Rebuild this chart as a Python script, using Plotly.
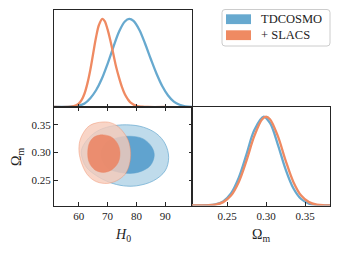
import plotly.graph_objects as go

# ---------------- data ----------------
# 1D marginal of H0 (normalised to peak = 1)
h0_blue = [51, 54, 56, 58, 60, 62, 64, 66, 68, 70, 72, 74, 76, 77.5, 79, 81, 83, 85, 87, 89, 91, 93, 95, 97, 99.5]
dens_h0_blue = [0.0, 0.001, 0.002, 0.006, 0.015, 0.04, 0.10, 0.19, 0.32, 0.49, 0.68, 0.857, 0.97, 1.0,
                0.976, 0.876, 0.72, 0.544, 0.377, 0.235, 0.13, 0.06, 0.025, 0.008, 0.002]
h0_orange = [51, 56, 58, 60, 61, 62, 63, 64, 65, 66, 67, 68.2, 69, 70, 71, 72, 73, 74, 75, 76, 77, 78, 80, 82, 84, 90]
dens_h0_orange = [0.0, 0.0, 0.006, 0.038, 0.08, 0.153, 0.268, 0.42, 0.607, 0.79, 0.93, 1.0, 0.975, 0.88,
                  0.748, 0.60, 0.45, 0.33, 0.225, 0.144, 0.089, 0.05, 0.013, 0.003, 0.0, 0.0]

# 1D marginal of Omega_m
om_blue = [0.205, 0.215, 0.225, 0.235, 0.245, 0.255, 0.265, 0.275, 0.285, 0.297, 0.305, 0.315, 0.325,
           0.335, 0.345, 0.355, 0.365, 0.375, 0.385]
dens_om_blue = [0.0001, 0.0005, 0.0028, 0.0128, 0.046, 0.135, 0.313, 0.578, 0.85, 1.0, 0.93, 0.69, 0.41,
                0.195, 0.073, 0.022, 0.0053, 0.001, 0.0]
om_orange = [0.205, 0.215, 0.225, 0.235, 0.245, 0.255, 0.265, 0.275, 0.285, 0.295, 0.300, 0.305, 0.315,
             0.325, 0.335, 0.345, 0.355, 0.365, 0.375, 0.385]
dens_om_orange = [0.0001, 0.0004, 0.0023, 0.0104, 0.038, 0.112, 0.266, 0.509, 0.784, 0.973, 1.0, 0.973,
                  0.784, 0.509, 0.266, 0.112, 0.038, 0.0104, 0.0023, 0.0004]

# 2D credible-region boundaries (H0, Omega_m)
blue95_h0 = [60.9, 62.7, 66.2, 70.8, 76.6, 82.4, 87.1, 90.0, 91.2, 90.0, 85.9, 80.1, 75.5, 70.8, 66.2, 62.7, 61.3, 60.9]
blue95_om = [0.3036, 0.3217, 0.338, 0.347, 0.350, 0.3458, 0.3337, 0.3157, 0.2916, 0.2675, 0.2494, 0.2404,
             0.2404, 0.2464, 0.2584, 0.2735, 0.2886, 0.3036]
blue68_h0 = [67.7, 69.7, 73.1, 77.8, 82.4, 85.4, 86.2, 84.8, 81.3, 77.8, 73.1, 69.7, 67.7]
blue68_om = [0.2976, 0.3187, 0.3265, 0.3295, 0.3247, 0.3096, 0.2946, 0.2765, 0.2657, 0.2627, 0.2657, 0.2735, 0.2976]
orange95_h0 = [66.2, 70.2, 73.1, 75.5, 77.2, 78.0, 77.6, 76.1, 73.1, 69.7, 66.2, 63.3, 61.3, 60.1, 60.4, 62.1, 63.8, 66.2]
orange95_om = [0.3536, 0.3548, 0.3488, 0.3367, 0.3217, 0.3006, 0.2795, 0.2614, 0.2494, 0.2446, 0.2476, 0.2584,
               0.2765, 0.3006, 0.3217, 0.3398, 0.3488, 0.3536]
orange68_h0 = [65.6, 68.5, 71.4, 73.5, 74.3, 73.7, 71.4, 68.5, 65.6, 63.6, 63.1, 63.8, 65.6]
orange68_om = [0.3289, 0.3319, 0.3277, 0.3157, 0.3006, 0.2825, 0.2690, 0.2645, 0.2690, 0.2825, 0.3006, 0.3187, 0.3289]

h0_ticks = [60, 70, 80, 90]
om_ticks = [0.25, 0.30, 0.35]
om_ticklabels = ["0.25", "0.30", "0.35"]
labels = ["TDCOSMO", "+ SLACS"]

# ---------------- style ----------------
W, H = 340, 253
BLUE = "#67a9cf"
ORANGE = "#ef8a62"
FONT = "Liberation Serif, DejaVu Serif, serif"
AX = "#262626"
h0_range = [51.4, 99.3]
om_range = [0.205, 0.382]

def px(x):
    return x / W

def py(y):
    return 1 - y / H

xL = [px(54), px(192)]
xR = [px(192), px(330)]
yT = [py(107), py(10)]
yB = [py(205.5), py(107)]

fig = go.Figure()

# top panel: H0 marginals
fig.add_trace(go.Scatter(x=h0_blue, y=dens_h0_blue, mode="lines", line=dict(color=BLUE, width=2.3, shape="spline"),
                         xaxis="x", yaxis="y", showlegend=False))
fig.add_trace(go.Scatter(x=h0_orange, y=dens_h0_orange, mode="lines", line=dict(color=ORANGE, width=2.3, shape="spline"),
                         xaxis="x", yaxis="y", showlegend=False))

# 2D panel
fig.add_trace(go.Scatter(x=blue95_h0, y=blue95_om, mode="lines", fill="toself",
                         fillcolor="rgba(103,169,207,0.42)", line=dict(color="rgba(103,169,207,0.9)", width=0.8, shape="spline"),
                         xaxis="x2", yaxis="y2", showlegend=False))
fig.add_trace(go.Scatter(x=blue68_h0, y=blue68_om, mode="lines", fill="toself",
                         fillcolor="rgba(91,160,205,0.95)", line=dict(color="rgba(91,160,205,0.95)", width=0.5, shape="spline"),
                         xaxis="x2", yaxis="y2", showlegend=False))
fig.add_trace(go.Scatter(x=orange95_h0, y=orange95_om, mode="lines", fill="toself",
                         fillcolor="rgba(246,202,185,0.8)", line=dict(color="rgba(239,138,98,0.55)", width=0.8, shape="spline"),
                         xaxis="x2", yaxis="y2", showlegend=False))
fig.add_trace(go.Scatter(x=orange68_h0, y=orange68_om, mode="lines", fill="toself",
                         fillcolor="rgba(234,132,99,0.88)", line=dict(color="rgba(234,132,99,0.88)", width=0.5, shape="spline"),
                         xaxis="x2", yaxis="y2", showlegend=False))

# right panel: Omega_m marginals
fig.add_trace(go.Scatter(x=om_blue, y=dens_om_blue, mode="lines", line=dict(color=BLUE, width=2.3, shape="spline"),
                         xaxis="x3", yaxis="y3", showlegend=False))
fig.add_trace(go.Scatter(x=om_orange, y=dens_om_orange, mode="lines", line=dict(color=ORANGE, width=2.3, shape="spline"),
                         xaxis="x3", yaxis="y3", showlegend=False))

tick_common = dict(ticks="inside", ticklen=3.5, tickwidth=0.9, tickcolor=AX, showline=True, linecolor=AX,
                   linewidth=1, showgrid=False, zeroline=False,
                   tickfont=dict(family=FONT, size=11, color="#222"))

fig.update_layout(
    width=W, height=H, margin=dict(l=0, r=0, t=0, b=0),
    paper_bgcolor="white", plot_bgcolor="white",
    xaxis=dict(domain=xL, anchor="y", range=h0_range, tickvals=h0_ticks, showticklabels=False, mirror=True, **tick_common),
    yaxis=dict(domain=yT, anchor="x", range=[0, 1.1], showline=True, linecolor=AX, linewidth=1, mirror=True,
               showgrid=False, zeroline=False, showticklabels=False, ticks=""),
    xaxis2=dict(domain=xL, anchor="y2", range=h0_range, tickvals=h0_ticks, mirror="ticks", **tick_common),
    yaxis2=dict(domain=yB, anchor="x2", range=om_range, tickvals=om_ticks, ticktext=om_ticklabels, mirror="ticks", **tick_common),
    xaxis3=dict(domain=xR, anchor="y3", range=om_range, tickvals=om_ticks, ticktext=om_ticklabels, mirror=True, **tick_common),
    yaxis3=dict(domain=yB, anchor="x3", range=[0, 1.11], showline=True, linecolor=AX, linewidth=1, mirror=True,
                showgrid=False, zeroline=False, showticklabels=False, ticks=""),
    yaxis4=dict(overlaying="y3", anchor="x3", side="left", range=om_range, tickvals=om_ticks, showticklabels=False,
                ticks="inside", ticklen=3.5, tickwidth=0.9, tickcolor=AX, showline=False, showgrid=False, zeroline=False),
)

# axis titles
fig.add_annotation(text="<i>H</i><sub>0</sub>", x=(xL[0] + xL[1]) / 2, y=py(235), xref="paper", yref="paper",
                   showarrow=False, font=dict(family=FONT, size=14, color="#222"), xanchor="center", yanchor="middle")
fig.add_annotation(text="Ω<sub>m</sub>", x=(xR[0] + xR[1]) / 2, y=py(235), xref="paper", yref="paper",
                   showarrow=False, font=dict(family=FONT, size=14, color="#222"), xanchor="center", yanchor="middle")
fig.add_annotation(text="Ω<sub>m</sub>", x=px(17), y=py(157), xref="paper", yref="paper", textangle=-90,
                   showarrow=False, font=dict(family=FONT, size=14, color="#222"), xanchor="center", yanchor="middle")

# legend (drawn manually)
lx0, lx1, ly0, ly1, r = 222, 330, 9.5, 46, 3
path = (f"M {px(lx0 + r)},{py(ly0)} L {px(lx1 - r)},{py(ly0)} Q {px(lx1)},{py(ly0)} {px(lx1)},{py(ly0 + r)} "
        f"L {px(lx1)},{py(ly1 - r)} Q {px(lx1)},{py(ly1)} {px(lx1 - r)},{py(ly1)} "
        f"L {px(lx0 + r)},{py(ly1)} Q {px(lx0)},{py(ly1)} {px(lx0)},{py(ly1 - r)} "
        f"L {px(lx0)},{py(ly0 + r)} Q {px(lx0)},{py(ly0)} {px(lx0 + r)},{py(ly0)} Z")
fig.add_shape(type="path", path=path, xref="paper", yref="paper", line=dict(color="#cccccc", width=1),
              fillcolor="rgba(255,255,255,0.8)")
for i, (lab, col) in enumerate(zip(labels, [BLUE, ORANGE])):
    yc = 19.2 + 16 * i
    fig.add_shape(type="rect", x0=px(226), x1=px(251), y0=py(yc - 4.9), y1=py(yc + 4.9), xref="paper", yref="paper",
                  line=dict(width=0), fillcolor=col)
    fig.add_annotation(text=lab, x=px(259), y=py(yc), xref="paper", yref="paper", showarrow=False,
                       xanchor="left", yanchor="middle", font=dict(family=FONT, size=12.5, color="#222"))

fig.write_html("out.html", config={"displayModeBar": False},
               post_script="document.body.style.margin='0px';document.body.style.overflow='hidden';")
